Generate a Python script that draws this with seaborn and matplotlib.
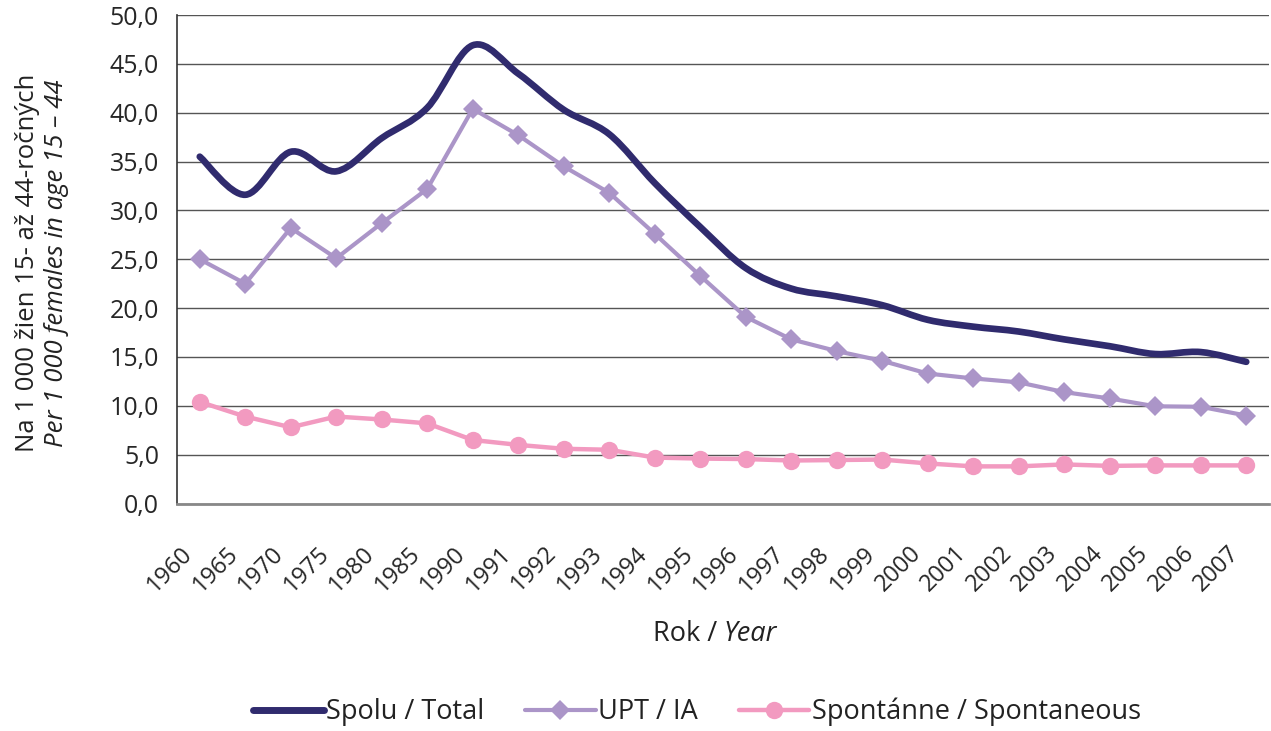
import numpy as np
import pandas as pd
import seaborn as sns
import matplotlib.pyplot as plt
from matplotlib.path import Path
from matplotlib.patches import PathPatch
from matplotlib.lines import Line2D
from matplotlib.transforms import ScaledTranslation

years = ["1960", "1965", "1970", "1975", "1980", "1985", "1990", "1991", "1992",
         "1993", "1994", "1995", "1996", "1997", "1998", "1999", "2000", "2001",
         "2002", "2003", "2004", "2005", "2006", "2007"]

total = [35.5, 31.6, 36.0, 34.0, 37.4, 40.5, 46.9, 44.0, 40.3, 37.8, 32.8, 28.3,
         24.1, 22.0, 21.2, 20.3, 18.8, 18.1, 17.6, 16.8, 16.1, 15.3, 15.5, 14.5]

upt = [25.0, 22.5, 28.2, 25.1, 28.7, 32.2, 40.4, 37.7, 34.5, 31.8, 27.6, 23.3,
       19.1, 16.8, 15.6, 14.6, 13.3, 12.8, 12.4, 11.4, 10.75, 9.95, 9.9, 9.0]

spontaneous = [10.4, 8.9, 7.8, 8.9, 8.6, 8.2, 6.5, 6.0, 5.6, 5.5, 4.7, 4.6,
               4.55, 4.4, 4.45, 4.5, 4.1, 3.8, 3.8, 4.0, 3.85, 3.9, 3.9, 3.9]

C_TOTAL = "#302B6E"
C_UPT = "#AB95C8"
C_SPONT = "#F29AC0"


def smooth_path(xs, ys):
    """Excel-style smoothed line as cubic bezier segments."""
    pts = np.column_stack([xs, ys])
    p = np.vstack([pts[0], pts, pts[-1]])
    verts = [pts[0]]
    codes = [Path.MOVETO]
    for i in range(1, len(p) - 2):
        c1 = p[i] + (p[i + 1] - p[i - 1]) / 6.0
        c2 = p[i + 1] - (p[i + 2] - p[i]) / 6.0
        verts += [c1, c2, p[i + 1]]
        codes += [Path.CURVE4] * 3
    return Path(verts, codes)


sns.set_style("white")
plt.rcParams["font.family"] = ["Open Sans", "DejaVu Sans"]
plt.rcParams["text.color"] = "#222222"

df = pd.DataFrame({"pos": np.arange(len(years)), "Rok": years,
                   "UPT": upt, "Spont": spontaneous})

fig = plt.figure(figsize=(12.71, 7.31), dpi=100)
ax = fig.add_axes([177 / 1271, 1 - 503.5 / 731, (1269 - 177) / 1271, (503.5 - 15) / 731])

# gridlines
ax.set_ylim(0, 50)
ax.set_yticks(np.arange(0, 50.1, 5))
ax.yaxis.grid(True, color="#555555", linewidth=1)
ax.set_axisbelow(True)

sns.lineplot(data=df, x="pos", y="Spont", ax=ax, color=C_SPONT, linewidth=3.2,
             marker="o", markersize=12.5, markeredgewidth=0, zorder=3)
sns.lineplot(data=df, x="pos", y="UPT", ax=ax, color=C_UPT, linewidth=3,
             marker="D", markersize=10.5, markeredgewidth=0, zorder=4)

path = smooth_path(df["pos"].values, np.array(total))
ax.add_patch(PathPatch(path, fill=False, edgecolor=C_TOTAL, linewidth=4.8,
                       capstyle="round", joinstyle="round", zorder=5))

ax.set_xlim(-0.5, len(years) - 0.5)
ax.set_xticks(df["pos"])
ax.set_xticklabels(years, rotation=45, ha="right", va="top",
                   rotation_mode="anchor", fontsize=17)
ax.set_xticks(np.arange(-0.5, len(years), 1), minor=True)
ax.tick_params(axis="x", which="major", length=0, pad=0)
ax.tick_params(axis="x", which="minor", length=6, width=1, color="#333333",
               direction="out")
offset = ScaledTranslation(-0.19, -0.38, fig.dpi_scale_trans)
for lab in ax.get_xticklabels():
    lab.set_transform(lab.get_transform() + offset)

ax.set_yticklabels([f"{v:.1f}".replace(".", ",") for v in np.arange(0, 50.1, 5)],
                   fontsize=18)
ax.tick_params(axis="y", length=6, width=1, color="#333333", direction="out",
               pad=7)

ax.set_xlabel("")
ax.set_ylabel("")
for s in ["top", "right"]:
    ax.spines[s].set_visible(False)
ax.spines["left"].set_color("#333333")
ax.spines["left"].set_linewidth(1.2)
ax.spines["bottom"].set_color("#888888")
ax.spines["bottom"].set_linewidth(2)

# axis titles
fig.text(28 / 1271, 1 - 263 / 731, "Na 1 000 žien 15- až 44-ročných",
         rotation=90, ha="center", va="center", fontsize=18.5)
fig.text(57 / 1271, 1 - 263 / 731, "Per 1 000 females in age 15 – 44",
         rotation=90, ha="center", va="center", fontsize=18.5, style="italic")
fig.text(724 / 1271, 1 - 634 / 731, "Rok / ", ha="right", va="center", fontsize=19.5)
fig.text(724 / 1271, 1 - 634 / 731, "Year", ha="left", va="center", fontsize=19.5,
         style="italic")

handles = [
    Line2D([], [], color=C_TOTAL, linewidth=5),
    Line2D([], [], color=C_UPT, linewidth=3, marker="D", markersize=10.5,
           markeredgewidth=0),
    Line2D([], [], color=C_SPONT, linewidth=3.2, marker="o", markersize=12.5,
           markeredgewidth=0),
]
labels = ["Spolu / Total", "UPT / IA", "Spontánne / Spontaneous"]
fig.legend(handles, labels, loc="center", bbox_to_anchor=(697 / 1271, 0.026),
           ncol=3, frameon=False, fontsize=19.5, handlelength=2.6,
           handletextpad=0.1, columnspacing=1.5)

fig.savefig("out.png", dpi=100)
